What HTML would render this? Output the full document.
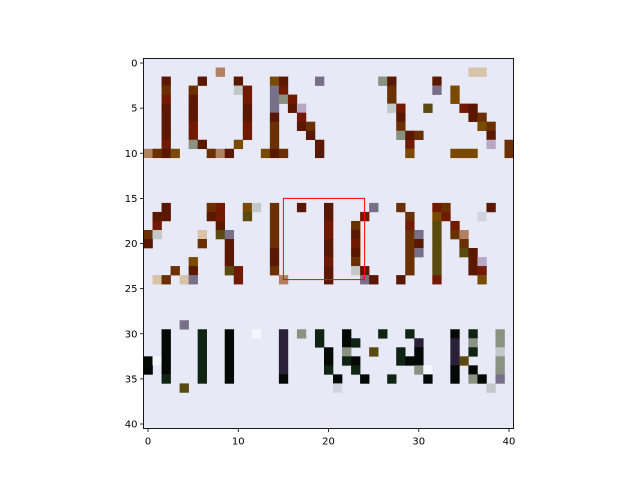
<!DOCTYPE html>
<html><head><meta charset="utf-8">
<style>
body{margin:0;background:#fff;}
svg text{font-family:"DejaVu Sans","Liberation Sans",sans-serif;font-size:10px;fill:#000;}
</style></head>
<body>
<svg id="chart" width="640" height="480" viewBox="0 0 640 480" xmlns="http://www.w3.org/2000/svg">
<rect x="0" y="0" width="640" height="480" fill="#fff"/>
<g id="cells"></g>
<g id="overlay"></g>
<g id="axes"></g>
</svg>
<script>
const nRows = 41;
const nCols = 41;
const bgColor = "#e7eaf6";
const xTicks = [0, 10, 20, 30, 40];
const yTicks = [0, 5, 10, 15, 20, 25, 30, 35, 40];
const palette = {D:"#5a1800",B:"#6a3000",R:"#721a00",O:"#7a4a00",T:"#b08060",K:"#060806",G:"#102414",P:"#2a2038",g:"#8a9282",p:"#787088",l:"#d8c2a8",m:"#b8a8c4",L:"#d0d4e0",o:"#5a4a10",c:"#c0c8c8",W:"#f4f6ff"};
// each entry: "row,col,colorKey"
const cellRows = [
"1,8,T","1,36,l","1,37,l",
"2,2,D","2,6,D","2,10,D","2,14,O","2,15,D","2,19,p","2,26,g","2,27,D","2,32,D",
"3,2,B","3,5,B","3,10,c","3,11,R","3,14,p","3,15,R","3,27,B","3,32,p","3,34,O",
"4,2,R","4,5,D","4,11,R","4,14,p","4,15,g","4,16,R","4,27,B","4,34,O",
"5,2,D","5,5,D","5,11,D","5,14,p","5,16,D","5,17,m","5,27,c","5,28,R","5,31,o","5,35,R","5,36,D",
"6,2,D","6,5,D","6,11,D","6,14,D","6,17,R","6,28,D","6,36,D","6,37,B",
"7,2,D","7,5,R","7,11,R","7,14,B","7,17,D","7,18,B","7,28,B","7,37,O","7,38,B",
"8,2,D","8,5,R","8,11,R","8,14,B","8,18,D","8,28,g","8,29,D","8,30,B","8,38,D",
"9,2,R","9,5,g","9,6,D","9,10,O","9,14,B","9,19,D","9,29,R","9,38,m","9,40,B",
"10,0,T","10,1,B","10,2,D","10,3,O","10,7,B","10,8,T","10,9,D","10,13,O","10,14,D","10,15,B","10,19,D","10,29,O","10,34,O","10,35,O","10,36,O","10,40,B",
"16,2,D","16,7,B","16,8,R","16,11,O","16,12,c","16,14,B","16,17,D","16,20,D","16,25,p","16,28,B","16,32,R","16,33,B","16,38,D",
"17,1,D","17,2,D","17,7,D","17,8,R","17,11,o","17,14,B","17,20,D","17,24,R","17,29,B","17,32,O","17,33,R","17,37,L",
"18,1,R","18,8,D","18,14,B","18,20,R","18,23,B","18,29,R","18,32,o","18,34,R",
"19,0,B","19,1,c","19,6,l","19,8,o","19,9,p","19,14,B","19,20,R","19,23,D","19,29,B","19,30,p","19,32,o","19,34,B","19,35,T",
"20,0,D","20,6,B","20,9,D","20,14,B","20,20,D","20,23,R","20,29,B","20,30,D","20,32,o","20,35,B",
"21,9,D","21,14,D","21,20,D","21,23,D","21,29,B","21,30,p","21,32,o","21,35,o","21,36,D",
"22,5,O","22,9,D","22,14,D","22,20,R","22,23,B","22,29,B","22,32,o","22,36,D","22,37,m",
"23,3,B","23,5,D","23,9,o","23,10,R","23,14,B","23,20,D","23,23,c","23,24,D","23,29,B","23,32,o","23,36,D","23,37,R",
"24,1,l","24,2,B","24,4,l","24,5,p","24,10,R","24,15,T","24,20,D","24,24,p","24,25,D","24,28,D","24,32,R","24,37,O",
"29,4,p",
"30,2,K","30,6,G","30,9,K","30,12,W","30,15,P","30,17,g","30,19,G","30,22,K","30,26,G","30,29,G","30,34,K","30,36,G","30,39,g",
"31,2,K","31,6,G","31,9,K","31,15,P","31,19,G","31,22,K","31,23,G","31,30,P","31,34,P","31,36,g","31,39,g",
"32,2,K","32,6,G","32,9,K","32,15,P","32,20,K","32,22,g","32,25,o","32,28,G","32,30,K","32,34,P","32,36,G","32,39,c",
"33,0,K","33,1,W","33,2,K","33,6,G","33,9,K","33,15,P","33,20,K","33,22,G","33,23,K","33,28,G","33,29,K","33,30,K","33,34,P","33,35,o","33,39,g",
"34,0,K","34,2,K","34,6,G","34,9,K","34,15,P","34,20,G","34,23,G","34,30,g","34,31,W","34,34,K","34,36,K","34,39,g",
"35,2,G","35,6,G","35,9,K","35,15,K","35,21,K","35,24,K","35,27,G","35,31,K","35,34,K","35,36,g","35,37,K","35,39,p",
"36,4,o","36,21,L","36,38,c"
];
const highlightBox = [15, 15, 24, 24]; // x0,y0,x1,y1 in data coords

const NS="http://www.w3.org/2000/svg";
const axLeft=143.5, axTop=58.5, cell=9.025;
const W=nCols*cell, H=nRows*cell;
function xPix(v){return axLeft+(v+0.5)*cell;}
function yPix(v){return axTop+(v+0.5)*cell;}
function mk(tag,attrs,parent){const e=document.createElementNS(NS,tag);for(const k in attrs)e.setAttribute(k,attrs[k]);parent.appendChild(e);return e;}

const cells=document.getElementById('cells');
const bg=mk('rect',{x:axLeft,y:axTop,width:W,height:H,fill:bgColor},cells);


cellRows.forEach(s=>{
  const parts=s.split(',');
  const rr=+parts[0], cc=+parts[1], k=parts[2];
  const e=mk('rect',{x:xPix(cc-0.5),y:yPix(rr-0.5),width:cell+0.3,height:cell+0.3,fill:palette[k]},cells);
  
  
});

const ov=document.getElementById('overlay');
const box=mk('rect',{x:xPix(highlightBox[0]),y:yPix(highlightBox[1]),width:xPix(highlightBox[2])-xPix(highlightBox[0]),height:yPix(highlightBox[3])-yPix(highlightBox[1]),fill:'none',stroke:'#ff0000','stroke-width':1},ov);



const ax=document.getElementById('axes');
const frame=mk('rect',{x:axLeft,y:axTop,width:W,height:H,fill:'none',stroke:'#000','stroke-width':0.9},ax);


xTicks.forEach(v=>{
  const x=xPix(v);
  const t=mk('line',{x1:x,x2:x,y1:axTop+H,y2:axTop+H+3.5,stroke:'#000','stroke-width':0.8},ax);
  
  
  const l=mk('text',{x:x,y:axTop+H+16,'text-anchor':'middle'},ax);
  l.textContent=v;
  
  
});
yTicks.forEach(v=>{
  const y=yPix(v);
  const t=mk('line',{x1:axLeft-3.5,x2:axLeft,y1:y,y2:y,stroke:'#000','stroke-width':0.8},ax);
  
  
  const l=mk('text',{x:axLeft-6,y:y+3.6,'text-anchor':'end'},ax);
  l.textContent=v;
  
  
});
</script>
</body></html>
